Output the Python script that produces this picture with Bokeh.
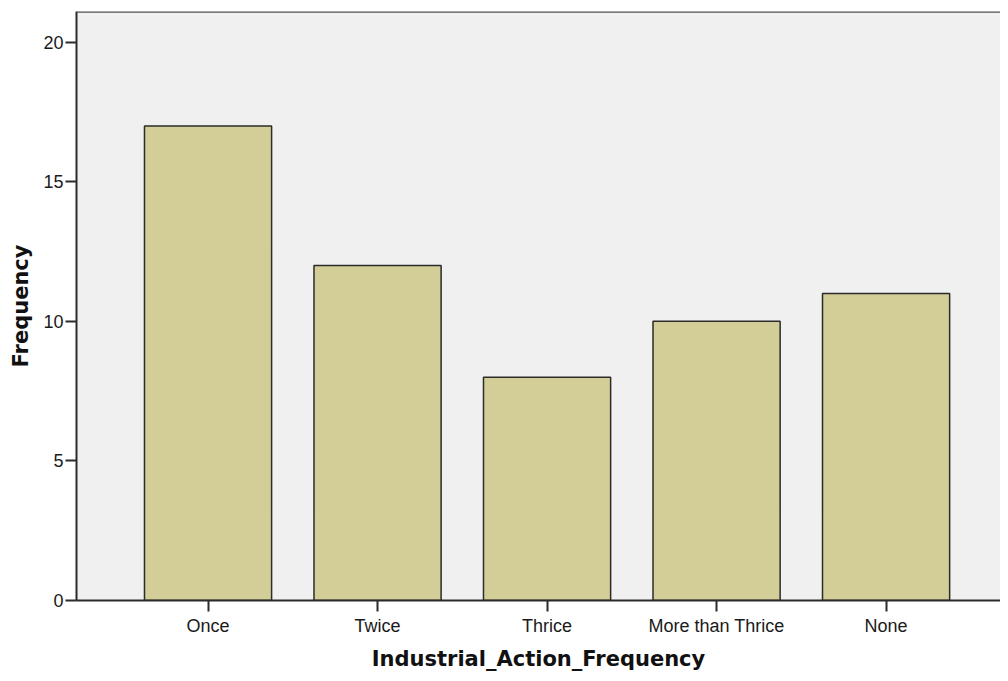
from bokeh.plotting import figure
from bokeh.models import Range1d, FixedTicker, Span, ColumnDataSource
from bokeh.embed import file_html
from bokeh.resources import INLINE

categories = ["Once", "Twice", "Thrice", "More than Thrice", "None"]
frequencies = [17, 12, 8, 10, 11]
y_ticks = [0, 5, 10, 15, 20]

positions = list(range(len(categories)))
src = ColumnDataSource(dict(x=positions, top=frequencies, cat=categories))

Y_END = 21.1
p = figure(width=1000, height=673, output_backend="svg", toolbar_location=None,
           x_range=Range1d(-0.776, 4.675), y_range=Range1d(0, Y_END),
           min_border_left=76, min_border_right=0, min_border_top=11,
           min_border_bottom=73)
p.background_fill_color = "#F0F0F0"
p.border_fill_color = "white"
p.outline_line_color = None
p.grid.visible = False

p.vbar(x="x", top="top", width=0.75, source=src, fill_color="#D3CE97",
       line_color="#2b2b2b", line_width=1.5)

p.add_layout(Span(location=Y_END, dimension="width", line_color="#555555",
                  line_width=2.5))

xa = p.xaxis[0]
xa.ticker = FixedTicker(ticks=positions)
xa.major_label_overrides = {i: c for i, c in zip(positions, categories)}
xa.axis_label = "Industrial_Action_Frequency"

ya = p.yaxis[0]
ya.ticker = FixedTicker(ticks=y_ticks)
ya.axis_label = "Frequency"

for ax in (xa, ya):
    ax.axis_line_color = "#2b2b2b"
    ax.axis_line_width = 2
    ax.major_tick_line_color = "#2b2b2b"
    ax.major_tick_line_width = 2
    ax.major_tick_in = 0
    ax.major_tick_out = 11
    ax.minor_tick_line_color = None
    ax.major_label_text_font = "Liberation Sans"
    ax.major_label_text_font_size = "18px"
    ax.major_label_text_color = "#1a1a1a"
    ax.axis_label_text_font = "DejaVu Sans"
    ax.axis_label_text_font_style = "bold"
    ax.axis_label_text_font_size = "21px"
    ax.axis_label_text_color = "#111111"

xa.major_label_standoff = 4
xa.axis_label_standoff = 8
ya.major_tick_out = 11
ya.major_label_standoff = 2
ya.axis_label_standoff = 7

open("out.html", "w").write(file_html(p, INLINE))
